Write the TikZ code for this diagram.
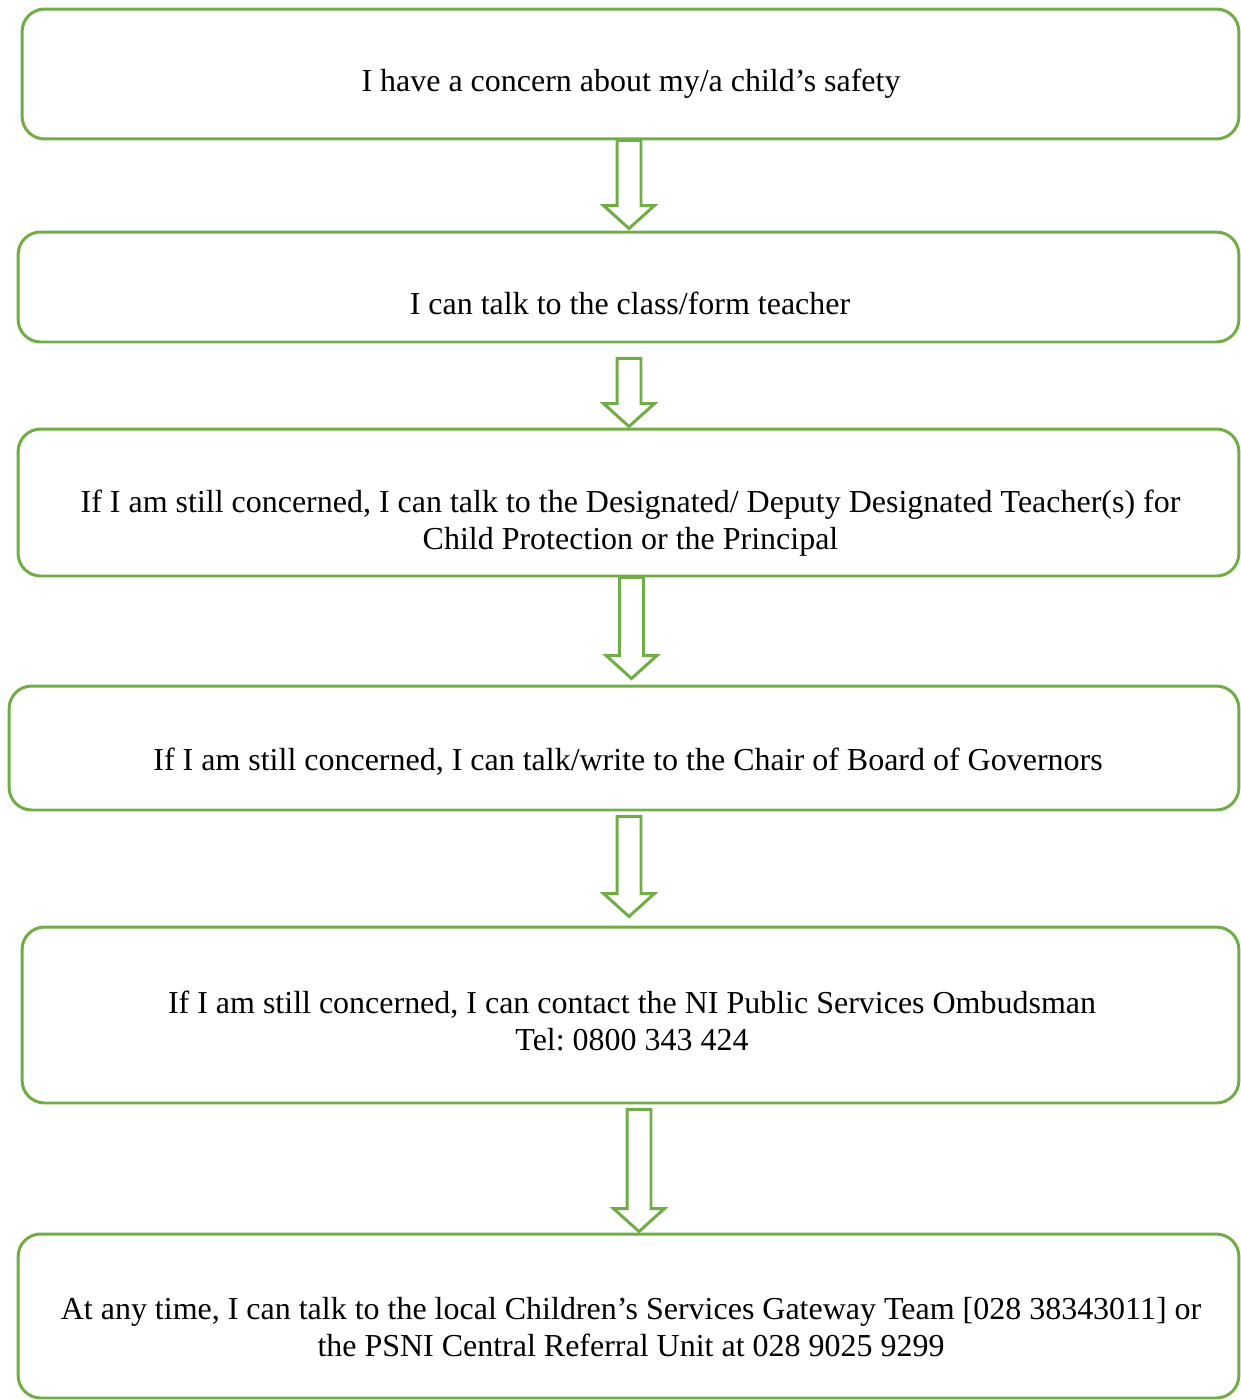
\documentclass[tikz,border=0pt]{standalone}
\usepackage{fontspec}
\setmainfont{Liberation Serif}
\usepackage{tikz}
\usetikzlibrary{calc}
\definecolor{boxgreen}{HTML}{70AD47}
\frenchspacing

\tikzset{
  box/.style={draw=boxgreen,line width=1.7pt,rounded corners=0.45cm,inner sep=0pt},
  txt/.style={align=center,inner sep=0pt,font=\fontsize{18.2}{21.2}\selectfont},
  fat/.style={draw=boxgreen,line width=1.7pt,fill=white}
}
% hollow block arrow from a point down to a tip
\newcommand{\fatarrow}[2]{%
  \draw[fat] let \p1=(#1), \p2=(#2) in
    (\x1-0.24cm,\y1) -- (\x1+0.24cm,\y1) -- (\x1+0.24cm,\y2+0.46cm)
    -- (\x1+0.51cm,\y2+0.46cm) -- (\x1,\y2) -- (\x1-0.51cm,\y2+0.46cm)
    -- (\x1-0.24cm,\y2+0.46cm) -- cycle;}

\begin{document}
\begin{tikzpicture}[x=0.02cm,y=-0.02cm]
  \useasboundingbox (0,0) rectangle (1241,1400);

  \node[box,minimum width=24.34cm,minimum height=2.6cm]  (b1) at (630.5,74)  {};
  \node[box,minimum width=24.42cm,minimum height=2.2cm]  (b2) at (628.5,287) {};
  \node[box,minimum width=24.42cm,minimum height=2.94cm] (b3) at (628.5,502.5) {};
  \node[box,minimum width=24.6cm,minimum height=2.48cm]  (b4) at (624,748) {};
  \node[box,minimum width=24.34cm,minimum height=3.52cm] (b5) at (630.5,1015) {};
  \node[box,minimum width=24.42cm,minimum height=3.28cm] (b6) at (628.5,1316) {};

  \node[txt] (t1) at (631,84)  {I have a concern about my/a child’s safety};
  \node[txt] (t2) at (630,303) {I can talk to the class/form teacher};
  \node[txt] (t3) at (630.5,523) {If I am still concerned, I can talk to the Designated/ Deputy Designated Teacher(s) for\\ Child Protection or the Principal};
  \node[txt] (t4) at (628,762) {If I am still concerned, I can talk/write to the Chair of Board of Governors};
  \node[txt] (t5) at (632,1021) {If I am still concerned, I can contact the NI Public Services Ombudsman\\ Tel: 0800 343 424};
  \node[txt] (t6) at (631,1327) {At any time, I can talk to the local Children’s Services Gateway Team [028 38343011] or\\ the PSNI Central Referral Unit at 028 9025 9299};

  \fatarrow{$(b1.south)+(-1.5,0)$}{$(b2.north)+(0,-2)$}
  \fatarrow{$(b2.south)+(0.5,15)$}{$(b3.north)+(0,-1)$}
  \fatarrow{$(b3.south)+(3,0)$}{$(b4.north)+(0,-6)$}
  \fatarrow{$(b4.south)+(5,5)$}{$(b5.north)+(0,-9)$}
  \fatarrow{$(b5.south)+(8.5,5)$}{$(b6.north)+(0,-1)$}
\end{tikzpicture}
\end{document}
